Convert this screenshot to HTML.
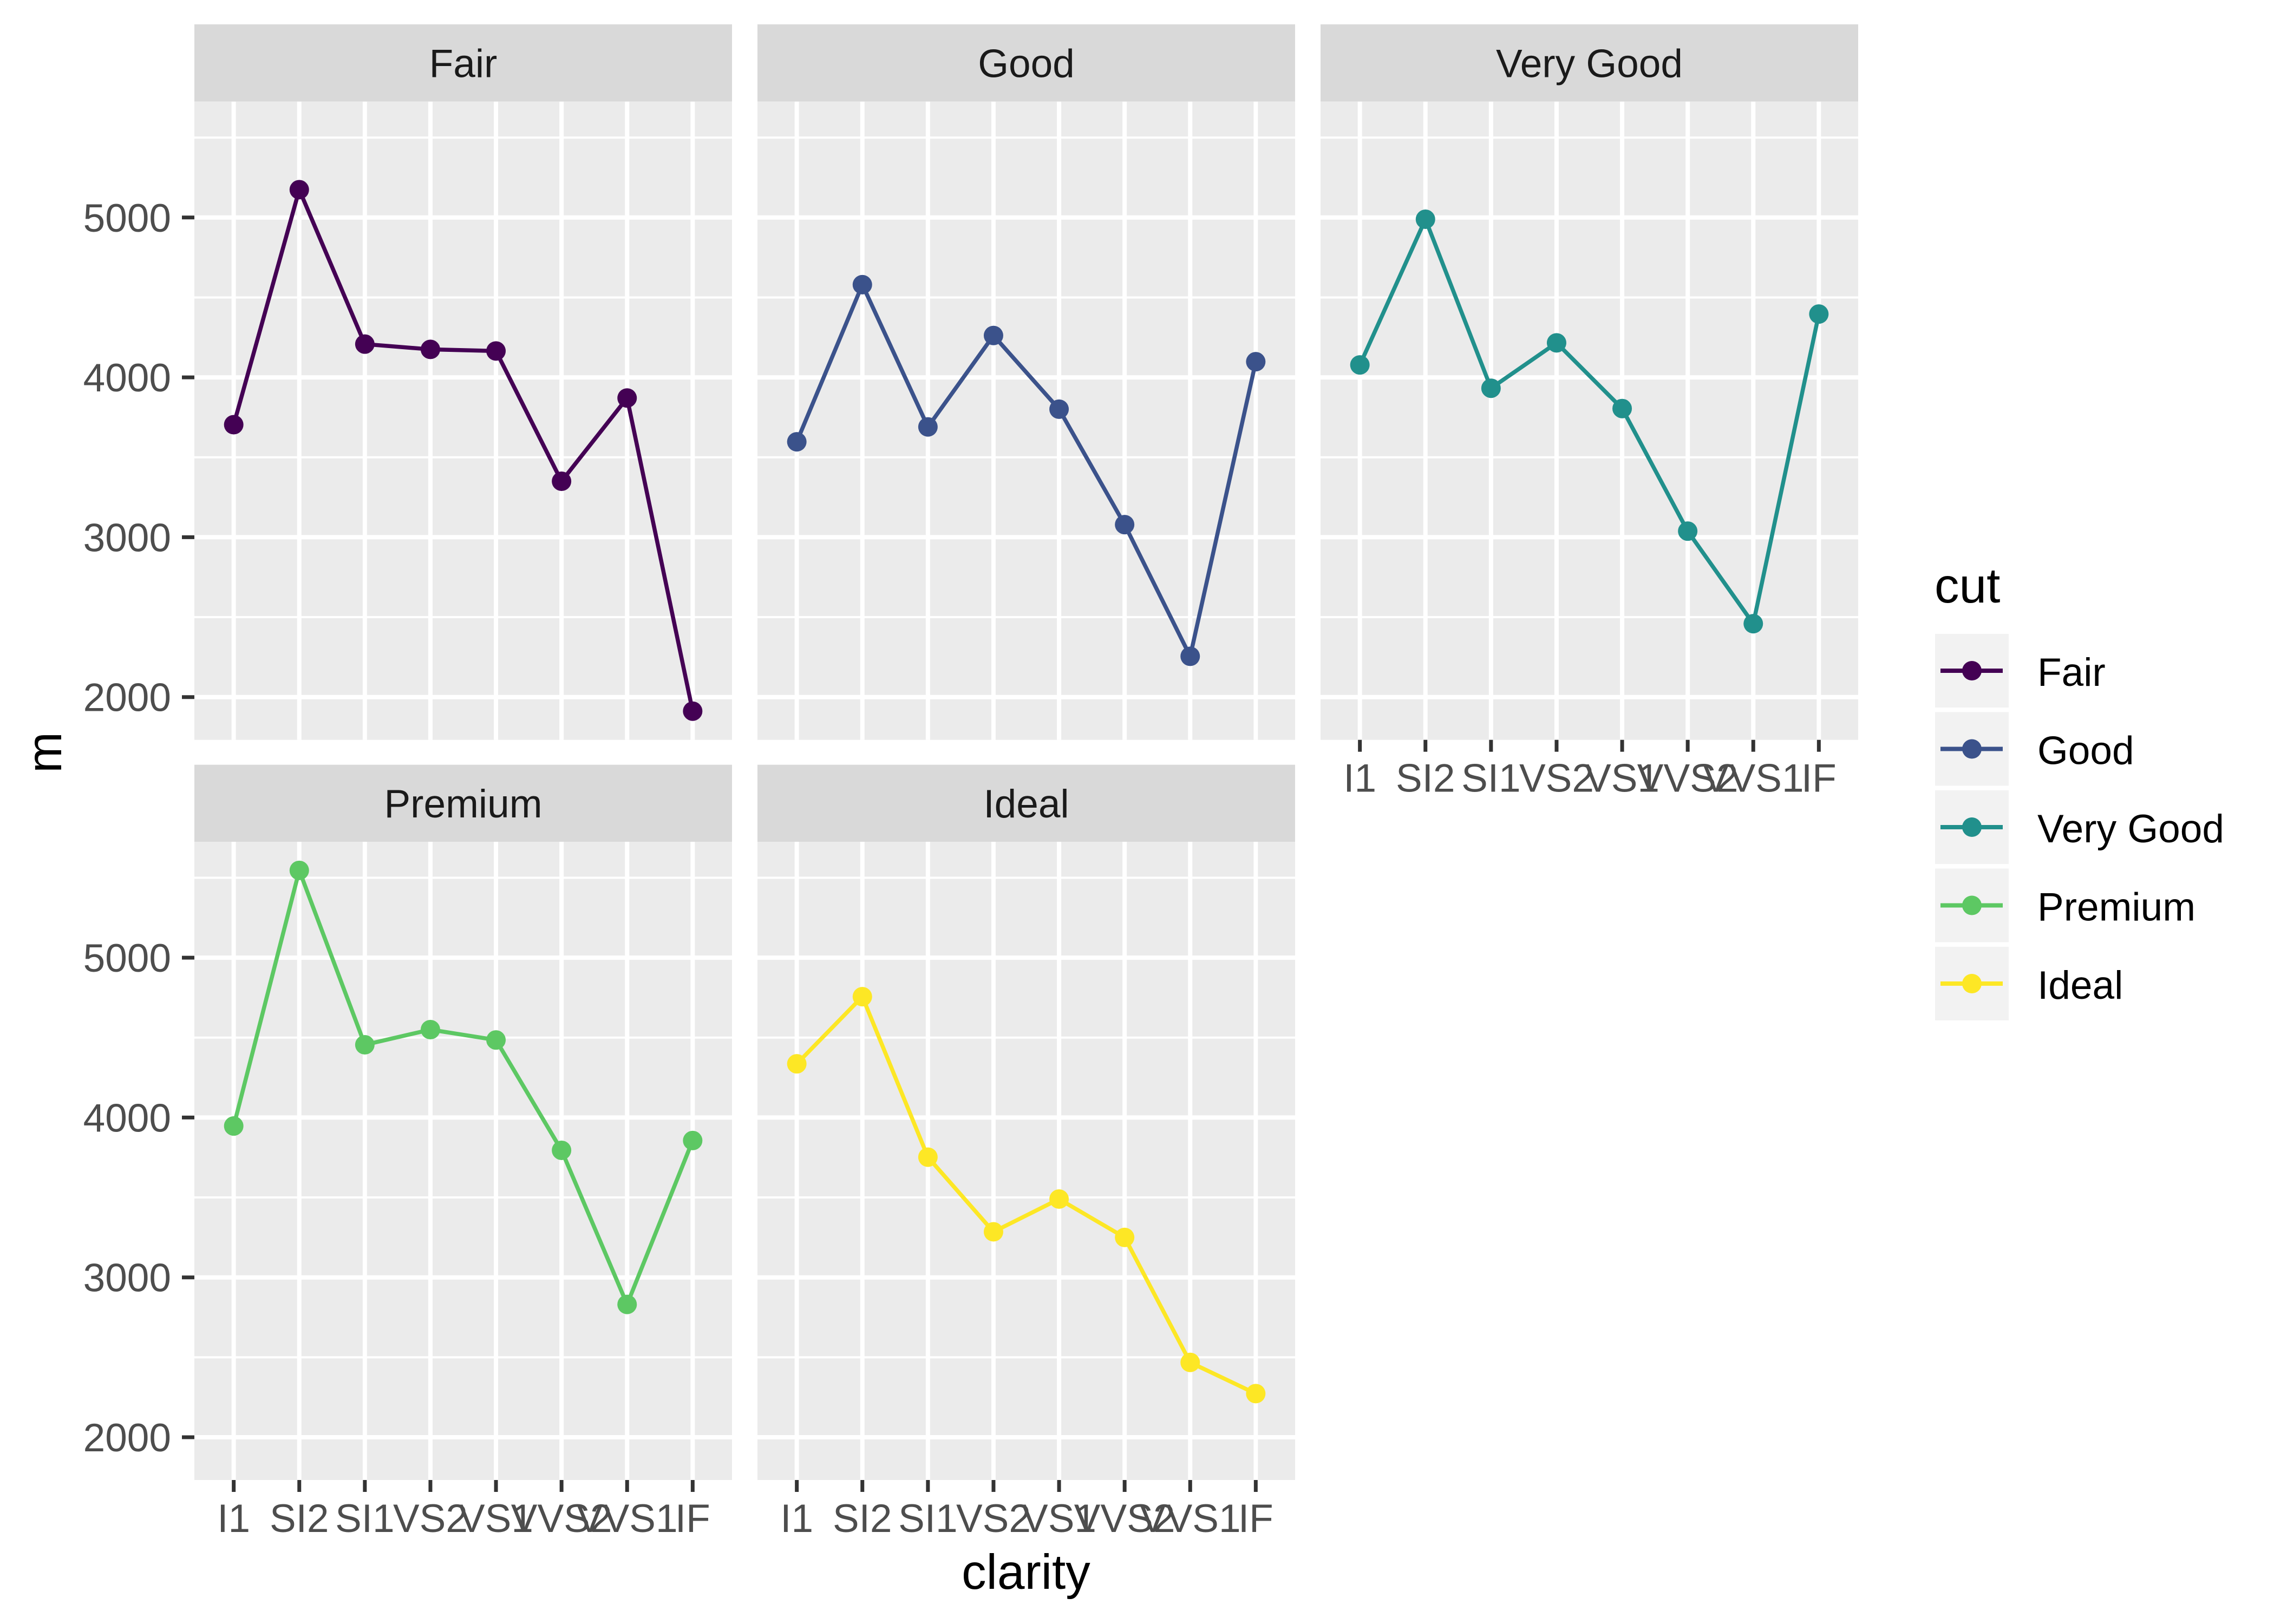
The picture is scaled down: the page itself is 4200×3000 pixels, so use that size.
<!DOCTYPE html>
<html><head><meta charset="utf-8"><style>
html,body{margin:0;padding:0;background:#fff;}
svg{display:block;font-family:"Liberation Sans",Arial,sans-serif;}
</style></head><body>
<svg id="chart" xmlns="http://www.w3.org/2000/svg" width="4200" height="3000" viewBox="0 0 4200 3000"></svg>
<script>
const clarities = ["I1","SI2","SI1","VS2","VS1","VVS2","VVS1","IF"];
const cuts = ["Fair","Good","Very Good","Premium","Ideal"];
const colors = ["#440154","#3B528B","#21908C","#5DC863","#FDE725"];
const fairValues = [3704,5174,4208,4175,4165,3350,3871,1912];
const goodValues = [3597,4580,3690,4262,3801,3079,2255,4098];
const veryGoodValues = [4078,4989,3932,4216,3805,3038,2459,4396];
const premiumValues = [3947,5546,4455,4550,4485,3795,2831,3856];
const idealValues = [4336,4756,3752,3285,3490,3250,2468,2273];
const seriesValues = [fairValues,goodValues,veryGoodValues,premiumValues,idealValues];
const yMajorTicks = [2000,3000,4000,5000];
const yMinorTicks = [2500,3500,4500,5500];
const yTickLabels = ["2000","3000","4000","5000"];

const NS="http://www.w3.org/2000/svg";
const svg=document.getElementById('chart');
function mk(tag,attrs,parent){const e=document.createElementNS(NS,tag);for(const k in attrs)e.setAttribute(k,attrs[k]);(parent||svg).appendChild(e);return e;}

const panelX=[359,1399,2439], panelW=993;
const rowStripTop=[45,1412.7], stripH=142.7;
const rowPlotTop=[187.7,1555], rowPlotBottom=[1366.7,2734];
const yMin=1732.5, pxPer=0.2953;
const xStep=panelW/8.2;
function xScale(i,px){return px+0.6*xStep+i*xStep;}
function yScale(v,row){return rowPlotBottom[row]-(v-yMin)*pxPer;}

cuts.forEach((cut,ci)=>{
  const row=ci<3?0:1, col=ci<3?ci:ci-3;
  const px=panelX[col], top=rowPlotTop[row], bot=rowPlotBottom[row];
  const g=mk('g',{});
  
  
  const strip=mk('rect',{x:px,y:rowStripTop[row],width:panelW,height:stripH,fill:'#d9d9d9'},g);
  
  
  const st=mk('text',{x:px+panelW/2,y:rowStripTop[row]+stripH/2+26,'text-anchor':'middle','font-size':73,fill:'#1a1a1a'},g);
  st.textContent=cut;
  
  
  const bg=mk('rect',{x:px,y:top,width:panelW,height:bot-top,fill:'#ebebeb'},g);
  
  
  yMinorTicks.forEach(v=>{const y=yScale(v,row);if(y>top)mk('line',{x1:px,x2:px+panelW,y1:y,y2:y,stroke:'#fff','stroke-width':4},g);});
  yMajorTicks.forEach(v=>{const y=yScale(v,row);mk('line',{x1:px,x2:px+panelW,y1:y,y2:y,stroke:'#fff','stroke-width':8},g);});
  clarities.forEach((c,i)=>{const x=xScale(i,px);mk('line',{x1:x,x2:x,y1:top,y2:bot,stroke:'#fff','stroke-width':8},g);});
  // y axis
  if(col===0){
    yMajorTicks.forEach((v,i)=>{const y=yScale(v,row);
      mk('line',{x1:336,x2:359,y1:y,y2:y,stroke:'#333','stroke-width':7},g);
      const t=mk('text',{x:316,y:y+26,'text-anchor':'end','font-size':73,fill:'#4d4d4d'},g);
      t.textContent=yTickLabels[i];
      
      
    });
  }
  // x axis
  if(row===1||ci===2){
    clarities.forEach((c,i)=>{const x=xScale(i,px);
      mk('line',{x1:x,x2:x,y1:bot,y2:bot+22,stroke:'#333','stroke-width':7},g);
      const t=mk('text',{x:x,y:bot+96,'text-anchor':'middle','font-size':73,fill:'#4d4d4d'},g);
      t.textContent=c;
      
      
    });
  }
  const vals=seriesValues[ci];
  const pts=vals.map((v,i)=>xScale(i,px)+','+yScale(v,row)).join(' ');
  const pl=mk('polyline',{points:pts,fill:'none',stroke:colors[ci],'stroke-width':7.5,'stroke-linejoin':'round'},g);
  
  
  vals.forEach((v,i)=>{
    const p=mk('circle',{cx:xScale(i,px),cy:yScale(v,row),r:18,fill:colors[ci]},g);
    
    
  });
});

// axis titles
const xt=mk('text',{x:1895,y:2935,'text-anchor':'middle','font-size':91,fill:'#000'});
xt.textContent='clarity';


const yt=mk('text',{x:0,y:0,'text-anchor':'middle','font-size':91,fill:'#000',transform:'translate(113,1390) rotate(-90)'});
yt.textContent='m';



// legend
const lg=mk('g',{});


const ltitle=mk('text',{x:3573,y:1113,'font-size':91,fill:'#000'},lg);
ltitle.textContent='cut';


cuts.forEach((cut,i)=>{
  const y0=1171+i*144.5;
  const e=mk('g',{},lg);
  
  
  mk('rect',{x:3574,y:y0,width:136,height:136,fill:'#f2f2f2'},e);
  mk('line',{x1:3584,x2:3699,y1:y0+68,y2:y0+68,stroke:colors[i],'stroke-width':8},e);
  mk('circle',{cx:3642,cy:y0+68,r:18,fill:colors[i]},e);
  const t=mk('text',{x:3763,y:y0+96,'font-size':73,fill:'#000'},e);
  t.textContent=cut;
});
</script>
</body></html>
